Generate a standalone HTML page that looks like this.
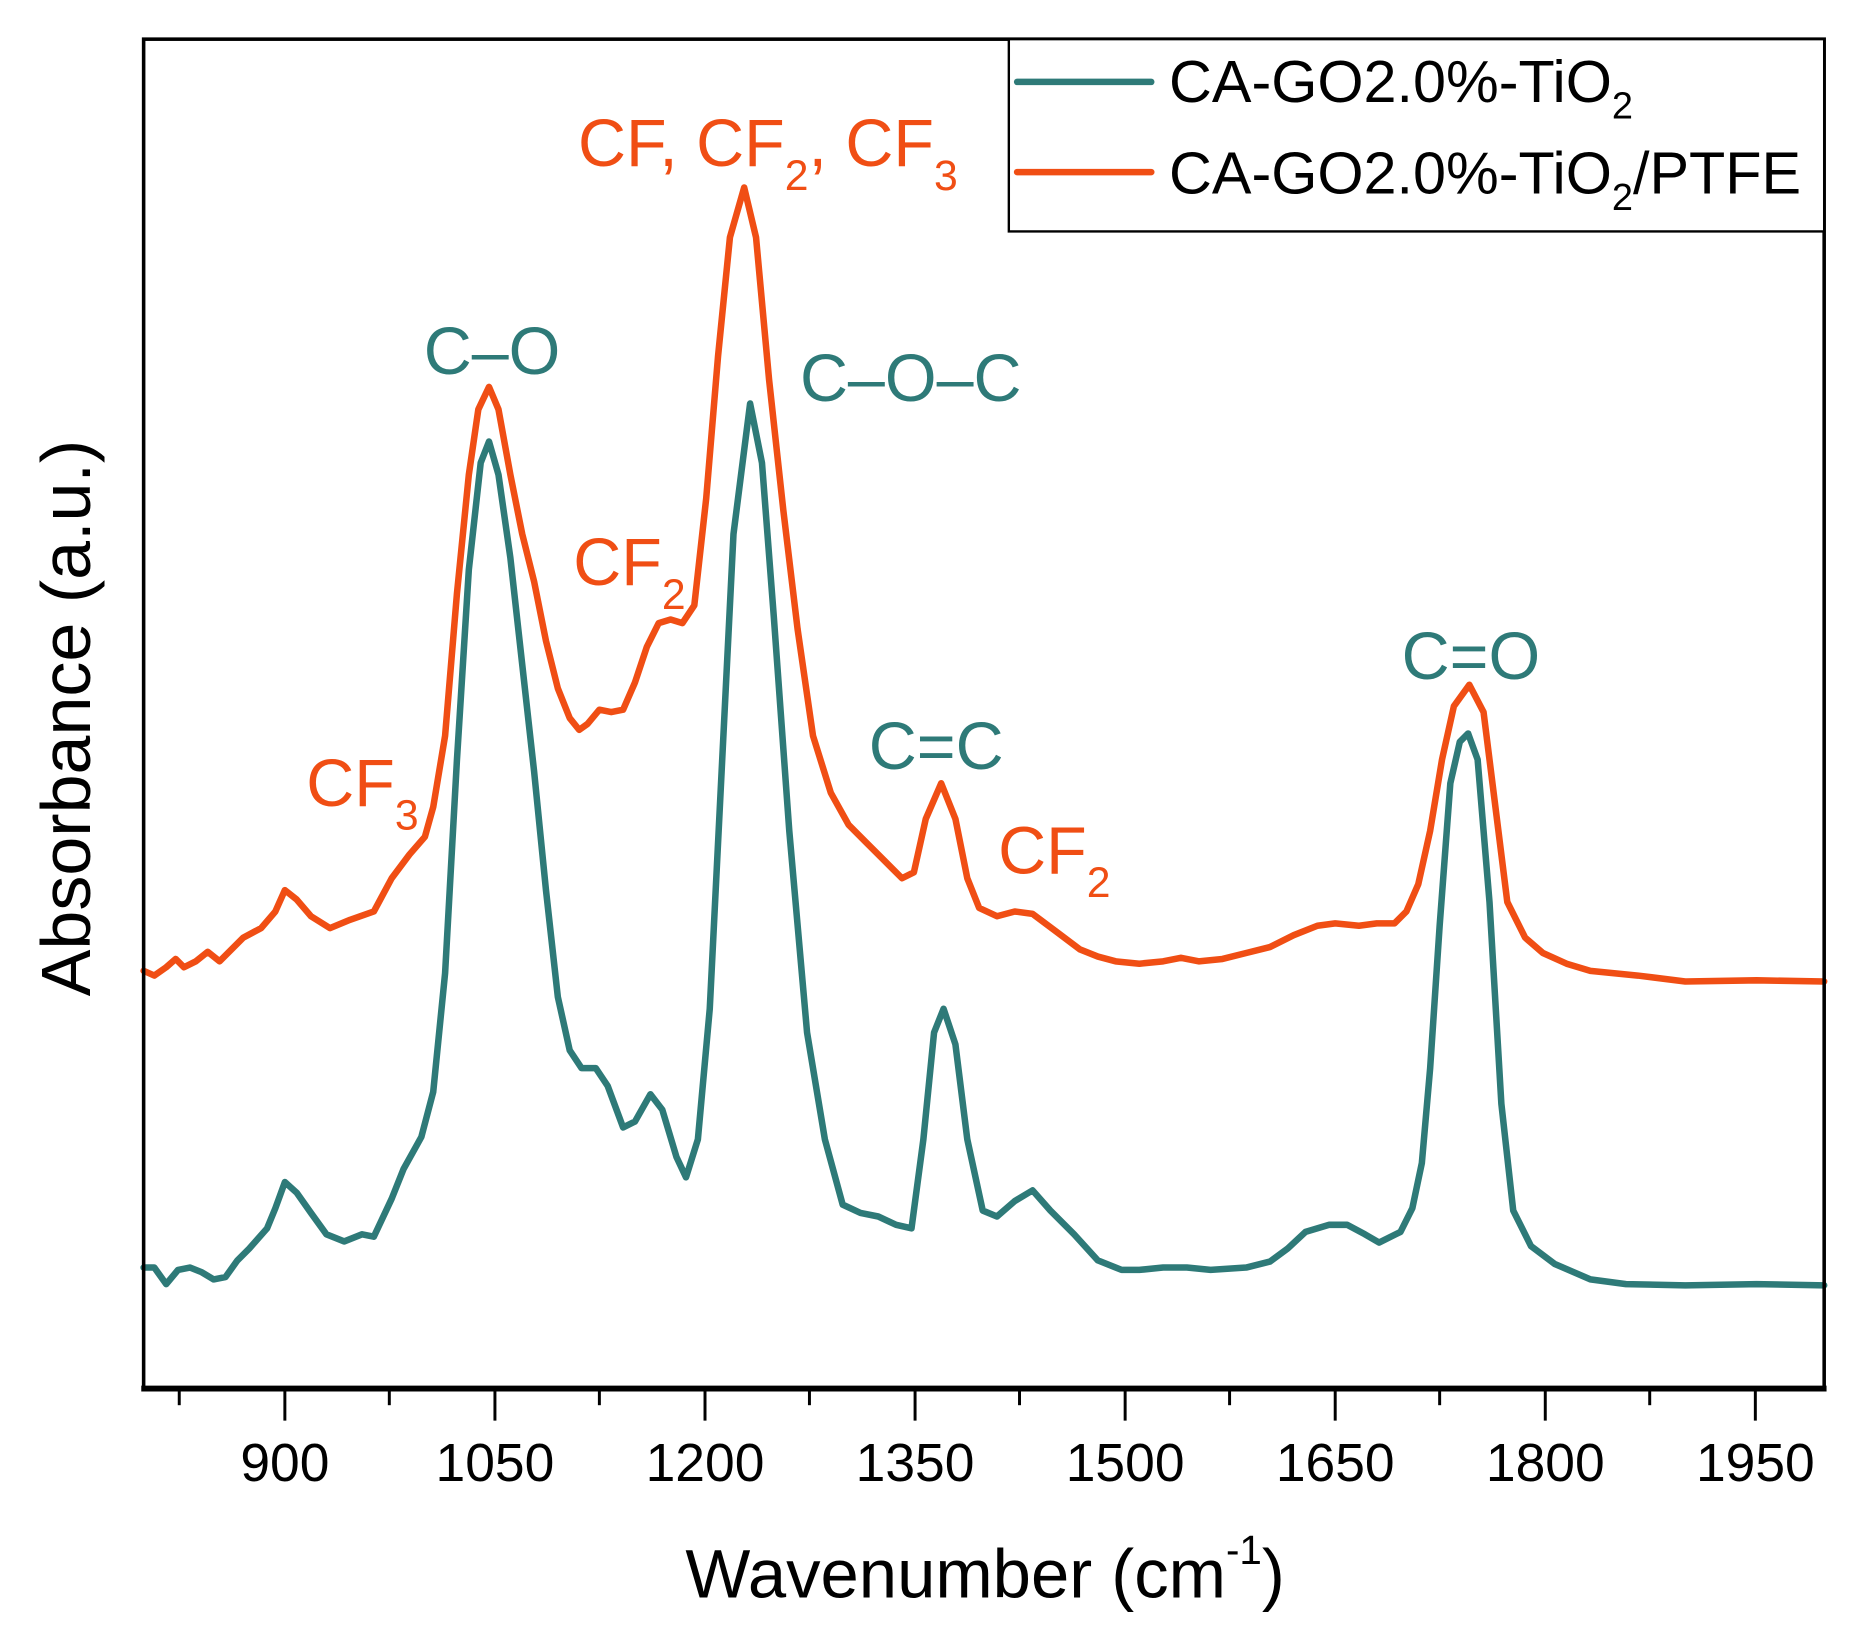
<!DOCTYPE html>
<html><head><meta charset="utf-8"><style>
html,body{margin:0;padding:0;background:#fff}
svg{display:block}
text{font-family:"Liberation Sans",Arial,sans-serif}
</style></head><body>
<svg width="1861" height="1639" viewBox="0 0 1568 1381" xmlns="http://www.w3.org/2000/svg">
<rect x="0" y="0" width="1568" height="1381" fill="#fff"/>
<polyline fill="none" stroke="#f04e14" stroke-width="5.5" stroke-linejoin="round" stroke-linecap="round" points="121,818 130,822 140,815 148,808 155,815 165,810 175,802 185,810 195,800 205,790 220,782 232,768 240,750 250,758 262,772 278,782 295,775 315,768 330,740 345,720 358,705 365,680 375,620 385,500 395,400 403,345 412,326 420,345 430,400 440,450 450,490 460,540 470,580 480,605 488,615 495,610 505,598 515,600 525,598 535,575 545,545 555,525 565,522 575,525 585,510 595,420 605,300 615,200 627,158 637,200 648,320 660,430 672,530 685,620 700,668 715,695 730,710 745,725 760,740 770,735 780,690 793,660 805,690 815,740 825,765 840,772 855,768 870,770 890,785 910,800 925,806 940,810 960,812 980,810 995,807 1010,810 1030,808 1050,803 1070,798 1090,788 1110,780 1125,778 1145,780 1160,778 1175,778 1185,768 1195,745 1205,700 1215,640 1225,595 1238,577 1250,600 1260,680 1270,760 1285,790 1300,803 1320,812 1340,818 1380,822 1420,827 1480,826 1537,827"/>
<polyline fill="none" stroke="#2e7a78" stroke-width="5.5" stroke-linejoin="round" stroke-linecap="round" points="121,1068 130,1068 140,1082 150,1070 160,1068 170,1072 180,1078 190,1076 200,1062 210,1052 225,1035 232,1018 240,996 250,1005 262,1022 275,1040 290,1046 305,1040 315,1042 330,1010 340,985 355,958 365,920 375,820 385,640 395,480 405,390 412,372 420,400 430,470 440,560 450,650 460,750 470,840 480,885 490,900 502,900 512,915 525,950 535,945 548,922 558,935 570,975 578,992 588,960 598,850 608,650 618,450 632,340 642,390 652,520 665,700 680,870 695,960 710,1015 725,1022 740,1025 755,1032 768,1035 778,960 787,870 795,850 805,880 815,960 828,1020 840,1025 855,1012 870,1003 885,1020 905,1040 925,1062 945,1070 960,1070 980,1068 1000,1068 1020,1070 1050,1068 1070,1063 1085,1052 1100,1038 1120,1032 1135,1032 1150,1040 1162,1047 1180,1038 1190,1018 1198,980 1205,900 1213,780 1222,660 1230,625 1237,618 1245,640 1255,760 1265,930 1275,1020 1290,1050 1310,1065 1340,1078 1370,1082 1420,1083 1480,1082 1537,1083"/>
<rect x="121" y="33" width="1416" height="1137" fill="none" stroke="#000" stroke-width="3"/>
<line x1="119" y1="1170" x2="1539" y2="1170" stroke="#000" stroke-width="5"/>
<g stroke="#000" stroke-width="2.5">
<line x1="151" y1="1172" x2="151" y2="1184"/>
<line x1="240" y1="1172" x2="240" y2="1197"/>
<line x1="328" y1="1172" x2="328" y2="1184"/>
<line x1="417" y1="1172" x2="417" y2="1197"/>
<line x1="505" y1="1172" x2="505" y2="1184"/>
<line x1="594" y1="1172" x2="594" y2="1197"/>
<line x1="682" y1="1172" x2="682" y2="1184"/>
<line x1="771" y1="1172" x2="771" y2="1197"/>
<line x1="859" y1="1172" x2="859" y2="1184"/>
<line x1="948" y1="1172" x2="948" y2="1197"/>
<line x1="1036" y1="1172" x2="1036" y2="1184"/>
<line x1="1125" y1="1172" x2="1125" y2="1197"/>
<line x1="1213" y1="1172" x2="1213" y2="1184"/>
<line x1="1302" y1="1172" x2="1302" y2="1197"/>
<line x1="1390" y1="1172" x2="1390" y2="1184"/>
<line x1="1479" y1="1172" x2="1479" y2="1197"/>
</g>
<g font-size="45" text-anchor="middle" fill="#000">
<text x="240" y="1248">900</text>
<text x="417" y="1248">1050</text>
<text x="594" y="1248">1200</text>
<text x="771" y="1248">1350</text>
<text x="948" y="1248">1500</text>
<text x="1125" y="1248">1650</text>
<text x="1302" y="1248">1800</text>
<text x="1479" y="1248">1950</text>
</g>
<text x="830" y="1346" font-size="58" text-anchor="middle">Wavenumber (cm<tspan font-size="34" dy="-28">-1</tspan><tspan dy="28">)</tspan></text>
<text transform="translate(76,605) rotate(-90)" font-size="59" text-anchor="middle">Absorbance (a.u.)</text>
<rect x="850" y="33" width="687" height="162" fill="#fff" stroke="#000" stroke-width="2"/>
<line x1="857" y1="69" x2="970" y2="69" stroke="#2e7a78" stroke-width="5.5" stroke-linecap="round"/>
<line x1="857" y1="145" x2="970" y2="145" stroke="#f04e14" stroke-width="5.5" stroke-linecap="round"/>
<text x="985" y="86" font-size="50">CA-GO2.0%-TiO<tspan font-size="32" dy="14">2</tspan></text>
<text x="985" y="163" font-size="50">CA-GO2.0%-TiO<tspan font-size="32" dy="14">2</tspan><tspan dy="-14">/PTFE</tspan></text>
<g font-size="56" fill="#2e7a78">
<text x="357" y="315">C–O</text>
<text x="674" y="338">C–O–C</text>
<text x="732" y="648">C=C</text>
<text x="1181" y="572">C=O</text>
</g>
<g font-size="56" fill="#f04e14">
<text x="487" y="140">CF, CF<tspan font-size="36" dy="20">2</tspan><tspan dy="-20">, CF</tspan><tspan font-size="36" dy="20">3</tspan></text>
<text x="483" y="493">CF<tspan font-size="36" dy="20">2</tspan></text>
<text x="258" y="679">CF<tspan font-size="36" dy="20">3</tspan></text>
<text x="841" y="736">CF<tspan font-size="36" dy="20">2</tspan></text>
</g>
</svg>
</body></html>
